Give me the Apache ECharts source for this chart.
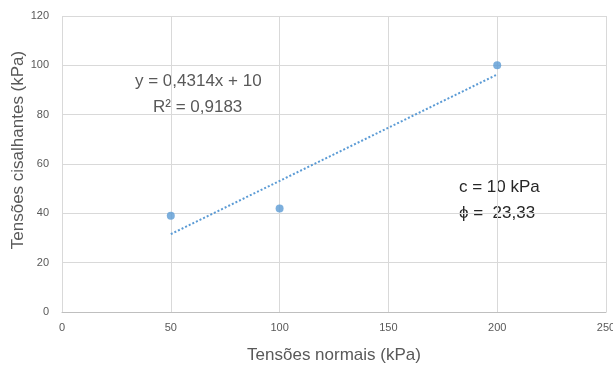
<!DOCTYPE html>
<html lang="pt">
<head>
    <meta charset="UTF-8">
    <title>Tensões</title>
    <script src="https://cdn.jsdelivr.net/npm/echarts@6/dist/echarts.min.js"></script>
    <style>
        html, body { margin: 0; padding: 0; background: #fff; }
        #main { width: 613px; height: 367px; }
    </style>
</head>
<body>
<div id="main"></div>
<script type="text/javascript">
    // dados
    var normais = [50, 100, 200];
    var cisalhantes = [39, 42, 100];
    // linha de tendência (extremos)
    var trendX = [50, 200];
    var trendY = [31.57, 96.28];
    var eqText = 'y = 0,4314x + 10';
    var r2Text = 'R² = 0,9183';
    var cText = 'c = 10 kPa';
    var phiText = 'ϕ =  23,33';

    var fonte = '"Liberation Sans", sans-serif';
    var cinza = '#595959';

    var myChart = echarts.init(document.getElementById('main'));

    function texto(x, y, t, cor, extra) {
        var el = {
            type: 'text', x: x, y: y,
            style: { text: t, fill: cor, font: '17px ' + fonte, verticalAlign: 'middle' }
        };
        if (extra) {
            for (var k in extra) el[k] = extra[k];
        }
        return el;
    }

    var option = {
        animation: false,
        textStyle: { fontFamily: fonte },
        grid: { left: 62, right: 7, top: 16, bottom: 55, outerBoundsMode: 'none' },
        xAxis: {
            type: 'value',
            min: 0, max: 250, interval: 50,
            name: 'Tensões normais (kPa)',
            nameLocation: 'middle',
            nameGap: 35,
            nameTextStyle: { color: cinza, fontSize: 17 },
            axisLine: { show: true, lineStyle: { color: '#bfbfbf' } },
            axisTick: { show: false },
            axisLabel: { color: cinza, fontSize: 11, margin: 10 },
            splitLine: { show: true, lineStyle: { color: '#d9d9d9' } }
        },
        yAxis: {
            type: 'value',
            min: 0, max: 120, interval: 20,
            axisLine: { show: false },
            axisTick: { show: false },
            axisLabel: { color: cinza, fontSize: 11, margin: 13 },
            splitLine: { show: true, lineStyle: { color: '#d9d9d9' } }
        },
        series: [
            {
                type: 'line',
                data: trendX.map(function (x, i) { return [x, trendY[i]]; }),
                symbol: 'none',
                lineStyle: { color: '#5b9bd5', width: 2, type: [2, 2] },
                z: 1
            },
            {
                type: 'scatter',
                data: normais.map(function (x, i) { return [x, cisalhantes[i]]; }),
                symbolSize: 8,
                itemStyle: { color: '#5b9bd5' },
                z: 2
            }
        ],
        graphic: [
            texto(135, 81, eqText, cinza),
            texto(153, 107, r2Text, cinza),
            texto(459, 187, cText, '#262626'),
            texto(459, 213, phiText, '#262626'),
            {
                type: 'text', x: 18, y: 150, rotation: Math.PI / 2,
                style: {
                    text: 'Tensões cisalhantes (kPa)', fill: cinza,
                    font: '17px ' + fonte, align: 'center', verticalAlign: 'middle'
                }
            }
        ]
    };
    myChart.setOption(option);
</script>
</body>
</html>
